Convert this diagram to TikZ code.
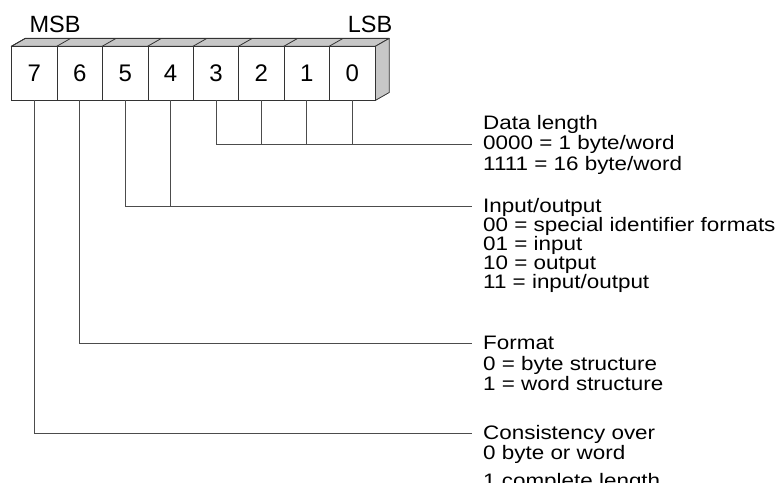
\documentclass[tikz,border=0pt]{standalone}
\usepackage{fontspec}
\setmainfont{Liberation Sans}
\newfontfamily\labelfont{Liberation Sans}[FakeStretch=1.15]
\usetikzlibrary{positioning}

\begin{document}
\begin{tikzpicture}[x=1pt, y=-1pt,
    bitbox/.style={draw=black!80, fill=white, line width=0.8pt, minimum width=45.4pt,
      minimum height=53.3pt, inner sep=0pt, font=\fontsize{24}{24}\selectfont},
    face/.style={draw=black!80, fill=black!22, line width=0.8pt, line join=round},
    wire/.style={draw=black!70, line width=1pt},
    desc/.style={anchor=north west, inner sep=0pt, align=left,
      font=\labelfont\fontsize{19.5}{20.5}\selectfont}]
    \useasboundingbox (0,0) rectangle (781,482);
    \clip (0,0) rectangle (781,482);

    % Bit boxes 7 ... 0
    \foreach \i in {0,...,7}
        \node[bitbox] (b\i) at ({11.7+(7.5-\i)*45.4}, 73.4) {\i};

    % Top and side faces
    \path[face] (b7.north west) -- ++(14,-8) -- ([shift={(14,-8)}]b0.north east)
        -- (b0.north east) -- cycle;
    \path[face] (b0.north east) -- ++(14,-8) -- ([shift={(14,-8)}]b0.south east)
        -- (b0.south east) -- cycle;
    \foreach \i in {0,...,7}
        \draw[draw=black!80, line width=0.8pt] (b\i.north west) -- ++(14,-8);
    \foreach \i in {0,...,7}
        \node[bitbox] at (b\i) {\i};

    \node[font=\fontsize{23.5}{23.5}\selectfont, anchor=base] (msb) at (55,32.3) {MSB};
    \node[font=\fontsize{23.5}{23.5}\selectfont, anchor=base] (lsb) at (370,32.3) {LSB};

    % Line ends next to the texts
    \coordinate (dlen-in) at (472,144);
    \coordinate (io-in) at (472,206);
    \coordinate (fmt-in) at (472,343);
    \coordinate (cons-in) at (472,433);

    % Data length: bits 3..0
    \draw[wire] (b3.south) |- (dlen-in);
    \foreach \i in {0,1,2}
        \draw[wire] (b\i.south) -- (b\i.south |- dlen-in);

    % Input/output: bits 5, 4
    \draw[wire] (b5.south) |- (io-in);
    \draw[wire] (b4.south) -- (b4.south |- io-in);

    % Format and consistency
    \draw[wire] (b6.south) |- (fmt-in);
    \draw[wire] (b7.south) |- (cons-in);

    % Texts
    \node[desc] (dlen) at (483,115) {Data length\\0000 = 1 byte/word\\1111 = 16 byte/word};
    \node[desc, font=\labelfont\fontsize{19.5}{19}\selectfont] (io) at (483,198)
        {Input/output\\00 = special identifier formats\\01 = input\\10 = output\\11 = input/output};
    \node[desc] (fmt) at (483,336) {Format\\0 = byte structure\\1 = word structure};
    \node[desc] (cons) at (483,425) {Consistency over\\0 byte or word\\[7pt]1 complete length};
\end{tikzpicture}
\end{document}
